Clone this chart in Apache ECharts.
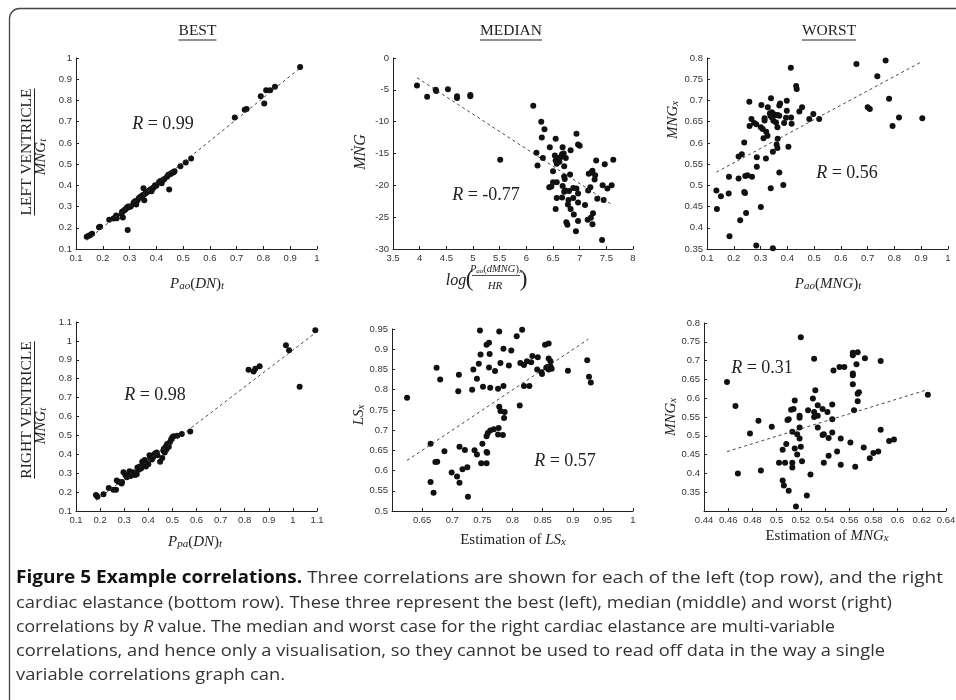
<!DOCTYPE html>
<html><head><meta charset="utf-8">
<script src="https://cdn.jsdelivr.net/npm/echarts@6/dist/echarts.min.js"></script>
<style>html,body{margin:0;padding:0;background:#fff}#c{width:956px;height:700px}</style>
</head><body><div id="c"></div><script>
// ---------- DATA ----------
const bestLV = [[0.14,0.158],[0.147,0.163],[0.152,0.165],[0.16,0.172],[0.186,0.203],[0.19,0.205],[0.224,0.238],[0.24,0.244],[0.247,0.25],[0.25,0.258],[0.252,0.245],[0.27,0.265],[0.272,0.275],[0.275,0.248],[0.278,0.28],[0.283,0.285],[0.287,0.29],[0.29,0.295],[0.293,0.19],[0.295,0.3],[0.3,0.298],[0.305,0.302],[0.315,0.318],[0.32,0.325],[0.325,0.31],[0.33,0.33],[0.335,0.34],[0.34,0.345],[0.345,0.35],[0.35,0.355],[0.352,0.386],[0.355,0.33],[0.358,0.36],[0.362,0.365],[0.368,0.37],[0.372,0.375],[0.378,0.38],[0.382,0.372],[0.385,0.385],[0.39,0.39],[0.395,0.4],[0.4,0.398],[0.41,0.415],[0.415,0.42],[0.42,0.41],[0.425,0.425],[0.43,0.43],[0.44,0.44],[0.445,0.45],[0.448,0.38],[0.45,0.452],[0.455,0.455],[0.46,0.46],[0.465,0.462],[0.468,0.466],[0.49,0.49],[0.51,0.508],[0.53,0.526],[0.693,0.72],[0.73,0.756],[0.737,0.76],[0.79,0.82],[0.803,0.786],[0.81,0.848],[0.825,0.848],[0.843,0.865],[0.937,0.958]];
const medianLV = [[3.95,-4.3],[4.14,-6.1],[4.30,-5.0],[4.31,-5.2],[4.53,-4.9],[4.70,-6.0],[4.70,-6.3],[4.95,-5.8],[4.95,-6.0],[5.51,-16.0],[6.13,-7.5],[6.28,-10.0],[6.34,-11.2],[6.29,-12.5],[6.55,-12.7],[6.94,-11.9],[6.97,-13.6],[7.0,-13.8],[6.44,-14.0],[6.68,-14.0],[6.83,-14.5],[6.19,-14.9],[6.31,-15.7],[6.21,-16.9],[6.535,-15.3],[6.55,-16.1],[6.58,-15.9],[6.62,-16.3],[6.64,-15.6],[6.67,-15.1],[6.70,-15.0],[6.57,-16.6],[6.74,-15.7],[6.71,-17.0],[6.50,-17.8],[7.31,-16.1],[7.63,-16.0],[7.47,-16.7],[7.24,-17.7],[7.22,-18.0],[7.17,-18.2],[7.29,-18.4],[7.28,-19.1],[6.82,-18.3],[6.71,-18.6],[6.72,-19.0],[6.50,-19.5],[6.57,-19.5],[6.43,-20.3],[6.47,-20.2],[6.68,-20.1],[6.88,-20.4],[6.94,-20.5],[6.97,-21.3],[7.2,-20.3],[7.16,-20.8],[7.43,-20.0],[7.6,-20.0],[7.52,-20.5],[6.80,-20.9],[6.71,-21.0],[6.73,-20.8],[6.57,-22.0],[6.67,-21.9],[6.88,-22.0],[6.97,-22.7],[6.79,-22.3],[6.78,-23.0],[7.1,-23.1],[7.33,-22.1],[7.45,-22.3],[6.55,-23.7],[6.83,-23.7],[6.89,-24.6],[7.25,-24.4],[7.21,-25.1],[7.15,-25.4],[7.24,-26.1],[6.75,-25.8],[6.77,-26.2],[6.97,-25.6],[6.93,-27.2],[7.42,-28.6]];
const worstLV = [[0.433,0.734],[0.435,0.727],[0.258,0.697],[0.339,0.705],[0.303,0.689],[0.327,0.684],[0.373,0.693],[0.37,0.688],[0.398,0.699],[0.335,0.67],[0.342,0.672],[0.348,0.668],[0.355,0.666],[0.364,0.666],[0.37,0.664],[0.337,0.664],[0.398,0.676],[0.445,0.674],[0.455,0.684],[0.497,0.668],[0.482,0.656],[0.414,0.66],[0.395,0.659],[0.315,0.658],[0.315,0.653],[0.342,0.66],[0.348,0.652],[0.358,0.648],[0.388,0.647],[0.416,0.645],[0.266,0.656],[0.259,0.64],[0.276,0.647],[0.284,0.644],[0.301,0.637],[0.308,0.633],[0.363,0.637],[0.321,0.626],[0.326,0.617],[0.311,0.611],[0.364,0.61],[0.36,0.596],[0.363,0.588],[0.404,0.591],[0.346,0.579],[0.239,0.601],[0.23,0.573],[0.218,0.568],[0.286,0.566],[0.32,0.563],[0.286,0.544],[0.37,0.53],[0.243,0.522],[0.251,0.524],[0.268,0.52],[0.182,0.52],[0.218,0.516],[0.385,0.501],[0.338,0.493],[0.239,0.484],[0.242,0.482],[0.181,0.481],[0.135,0.488],[0.152,0.474],[0.301,0.449],[0.137,0.444],[0.246,0.435],[0.224,0.418],[0.184,0.38],[0.284,0.358],[0.346,0.352],[0.413,0.777],[0.519,0.656],[0.658,0.786],[0.767,0.794],[0.736,0.757],[0.78,0.704],[0.70,0.684],[0.708,0.68],[0.817,0.66],[0.793,0.64],[0.904,0.658]];
const bestRV = [[0.183,0.185],[0.189,0.175],[0.214,0.188],[0.236,0.222],[0.255,0.212],[0.266,0.212],[0.269,0.262],[0.276,0.255],[0.289,0.246],[0.291,0.254],[0.297,0.305],[0.305,0.29],[0.311,0.278],[0.317,0.292],[0.322,0.31],[0.327,0.285],[0.333,0.3],[0.338,0.305],[0.345,0.29],[0.352,0.295],[0.355,0.33],[0.36,0.318],[0.365,0.335],[0.37,0.325],[0.375,0.36],[0.378,0.345],[0.385,0.37],[0.39,0.335],[0.394,0.352],[0.4,0.348],[0.405,0.395],[0.408,0.38],[0.412,0.39],[0.415,0.372],[0.42,0.385],[0.425,0.4],[0.43,0.405],[0.435,0.41],[0.438,0.395],[0.449,0.36],[0.458,0.38],[0.462,0.42],[0.465,0.43],[0.468,0.41],[0.472,0.44],[0.475,0.425],[0.478,0.455],[0.48,0.445],[0.485,0.44],[0.49,0.465],[0.495,0.48],[0.5,0.49],[0.505,0.495],[0.52,0.498],[0.539,0.508],[0.574,0.52],[0.816,0.848],[0.837,0.838],[0.844,0.853],[0.862,0.866],[0.971,0.977],[0.984,0.95],[1.028,0.757],[1.093,1.056]];
const medianRV = [[0.746,0.946],[0.778,0.944],[0.816,0.948],[0.807,0.932],[0.757,0.911],[0.761,0.916],[0.854,0.911],[0.86,0.914],[0.747,0.887],[0.762,0.888],[0.785,0.901],[0.798,0.897],[0.674,0.854],[0.68,0.825],[0.711,0.837],[0.71,0.796],[0.735,0.85],[0.744,0.864],[0.741,0.827],[0.733,0.8],[0.751,0.807],[0.763,0.805],[0.761,0.855],[0.771,0.846],[0.776,0.802],[0.785,0.809],[0.78,0.866],[0.794,0.86],[0.813,0.866],[0.819,0.861],[0.824,0.87],[0.831,0.868],[0.833,0.883],[0.842,0.88],[0.841,0.85],[0.848,0.843],[0.849,0.839],[0.819,0.809],[0.828,0.809],[0.856,0.854],[0.86,0.85],[0.863,0.858],[0.865,0.852],[0.86,0.877],[0.863,0.87],[0.858,0.856],[0.892,0.847],[0.924,0.873],[0.927,0.832],[0.93,0.818],[0.625,0.78],[0.812,0.761],[0.778,0.758],[0.78,0.747],[0.787,0.745],[0.786,0.73],[0.777,0.705],[0.769,0.702],[0.763,0.699],[0.759,0.693],[0.757,0.685],[0.776,0.689],[0.784,0.688],[0.664,0.666],[0.687,0.648],[0.712,0.659],[0.721,0.651],[0.737,0.65],[0.741,0.64],[0.75,0.666],[0.757,0.646],[0.758,0.644],[0.748,0.618],[0.757,0.618],[0.672,0.621],[0.675,0.622],[0.699,0.595],[0.708,0.585],[0.717,0.603],[0.725,0.608],[0.712,0.57],[0.664,0.572],[0.669,0.545],[0.726,0.535]];
const worstRV = [[0.52,0.762],[0.459,0.643],[0.466,0.579],[0.468,0.4],[0.485,0.54],[0.478,0.506],[0.496,0.524],[0.487,0.408],[0.531,0.705],[0.547,0.674],[0.552,0.683],[0.556,0.683],[0.563,0.721],[0.563,0.714],[0.567,0.722],[0.573,0.706],[0.586,0.699],[0.566,0.69],[0.563,0.666],[0.563,0.661],[0.563,0.637],[0.568,0.616],[0.567,0.612],[0.567,0.592],[0.564,0.568],[0.625,0.609],[0.532,0.621],[0.53,0.599],[0.515,0.594],[0.514,0.571],[0.512,0.569],[0.51,0.544],[0.509,0.542],[0.519,0.548],[0.519,0.553],[0.526,0.568],[0.534,0.581],[0.531,0.563],[0.534,0.553],[0.531,0.55],[0.538,0.571],[0.542,0.563],[0.546,0.583],[0.546,0.544],[0.534,0.522],[0.519,0.522],[0.513,0.511],[0.517,0.504],[0.519,0.493],[0.539,0.504],[0.538,0.502],[0.546,0.509],[0.543,0.494],[0.553,0.493],[0.561,0.482],[0.586,0.516],[0.593,0.486],[0.597,0.49],[0.572,0.469],[0.508,0.478],[0.505,0.463],[0.515,0.466],[0.52,0.471],[0.517,0.45],[0.521,0.432],[0.513,0.416],[0.513,0.428],[0.507,0.428],[0.502,0.428],[0.543,0.447],[0.539,0.428],[0.55,0.458],[0.553,0.423],[0.565,0.418],[0.577,0.44],[0.58,0.454],[0.584,0.458],[0.528,0.397],[0.505,0.381],[0.506,0.368],[0.51,0.354],[0.525,0.341],[0.516,0.312]];

const fitBestLV = [[0.14,0.141],[0.944,0.96]];
const fitMedianLV = [[3.95,-3.1],[7.6,-23.0]];
const fitWorstLV = [[0.135,0.531],[0.904,0.792]];
const fitBestRV = [[0.183,0.156],[1.093,1.042]];
const fitMedianRV = [[0.625,0.625],[0.926,0.925]];
const fitWorstRV = [[0.459,0.458],[0.625,0.623]];

// axis ranges [min, max, interval]
const xRanges = [[0.1,1,0.1],[3.5,8,0.5],[0.1,1,0.1],[0.1,1.1,0.1],[0.6,1,0.05],[0.44,0.64,0.02]];
const yRanges = [[0.1,1,0.1],[-30,0,5],[0.35,0.8,0.05],[0.1,1.1,0.1],[0.5,0.95,0.05],[0.3,0.8,0.05]];
const rValues = ['0.99','-0.77','0.56','0.98','0.57','0.31'];
const colTitles = ['BEST','MEDIAN','WORST'];
const rowTitles = ['LEFT VENTRICLE','RIGHT VENTRICLE'];

const points = [bestLV, medianLV, worstLV, bestRV, medianRV, worstRV];
const fits = [fitBestLV, fitMedianLV, fitWorstLV, fitBestRV, fitMedianRV, fitWorstRV];

// ---------- LAYOUT ----------
const grids = [
  {left:76, top:58, width:241, height:191},
  {left:393, top:58, width:240, height:191},
  {left:707, top:58, width:241, height:191},
  {left:76, top:322, width:241, height:189},
  {left:392, top:329, width:241, height:182},
  {left:704, top:323, width:242, height:188}
];
const hideXMin = [false,false,false,false,true,false];
const hideYMin = [false,false,false,false,false,true];

const SERIF = "'Liberation Serif','DejaVu Serif',serif";
const SANS = "'Liberation Sans','DejaVu Sans',sans-serif";
const CAP = "'Open Sans','Noto Sans',sans-serif";
const INK = '#222';

const cv = document.createElement('canvas').getContext('2d');
function measure(font, s){ cv.font = font; return cv.measureText(s).width; }

function richSet(sz){
  return {
    i:{fontFamily:SERIF,fontStyle:'italic',fontSize:sz,fill:INK,verticalAlign:'bottom',lineHeight:Math.round(sz*1.2)},
    r:{fontFamily:SERIF,fontSize:sz,fill:INK,verticalAlign:'bottom',lineHeight:Math.round(sz*1.2)},
    s:{fontFamily:SERIF,fontStyle:'italic',fontSize:Math.round(sz*0.7),fill:INK,verticalAlign:'bottom',lineHeight:Math.round(sz*0.55)}
  };
}
function T(x,y,text,sz,o){
  o = o || {};
  return {type:'text', x:x, y:y, rotation:o.rot||0, scaleX:o.sx||1, silent:true, z:20,
    style:{text:text, fontFamily:o.ff||SERIF, fontSize:sz, fontWeight:o.fw||'normal', fill:o.fill||INK,
      align:o.align||'center', textAlign:o.align||'center', verticalAlign:'middle', textVerticalAlign:'middle',
      rich:o.rich||richSet(sz)}};
}
function L(x1,y1,x2,y2,w,c){
  return {type:'line', silent:true, z:20, shape:{x1:x1,y1:y1,x2:x2,y2:y2}, style:{stroke:c||INK, lineWidth:w||1}};
}

const G = [];
// frame
G.push({type:'rect', silent:true, z:1, shape:{x:9.5, y:8.5, width:960, height:720, r:10}, style:{fill:'none', stroke:'#444', lineWidth:1.3}});

// column titles with underline
const titleX = [197.5, 511, 829];
colTitles.forEach((t,k)=>{
  const sz = 15.5;
  const w = measure(sz+'px '+SERIF, t);
  G.push(T(titleX[k], 31, t, sz, {ff:SERIF}));
  G.push(L(titleX[k]-w/2, 40, titleX[k]+w/2, 40, 1));
});
// row titles (rotated, underlined)
const rowY = [152, 410];
rowTitles.forEach((t,k)=>{
  const sz = 15.5;
  const w = measure(sz+'px '+SERIF, t);
  G.push(T(27, rowY[k], t, sz, {rot:Math.PI/2}));
  G.push(L(34.5, rowY[k]-w/2, 34.5, rowY[k]+w/2, 1));
});
// y-axis math labels
G.push(T(40, 157, '{i|MNG}{s|t}', 15, {rot:Math.PI/2}));
G.push(T(40, 426, '{i|MNG}{s|t}', 15, {rot:Math.PI/2}));
G.push(T(359, 152, '{i|M\u1E44G}', 16, {rot:Math.PI/2}));
G.push(T(672, 120, '{i|MNG}{s|x}', 15, {rot:Math.PI/2}));
G.push(T(358, 415, '{i|LS}{s|x}', 15, {rot:Math.PI/2}));
G.push(T(670, 417, '{i|MNG}{s|x}', 15, {rot:Math.PI/2}));
// x-axis math labels
G.push(T(197, 283, '{i|P}{s|ao}{r|(}{i|DN}{r|)}{s|t}', 15));
G.push(T(828, 283, '{i|P}{s|ao}{r|(}{i|MNG}{r|)}{s|t}', 15));
G.push(T(195, 541, '{i|P}{s|pa}{r|(}{i|DN}{r|)}{s|t}', 15));
G.push(T(513, 539, '{r|Estimation of }{i|LS}{s|x}', 15));
G.push(T(827, 535, '{r|Estimation of }{i|MNG}{s|x}', 15));
// fraction label for median LV
G.push(T(456, 279, '{i|log}', 16));
G.push(T(469.5, 277.5, '{r|(}', 23));
G.push(T(496, 268.5, '{i|P}{s|ao}{r|(}{i|dMNG}{r|)}{s|x}', 10.5));
G.push(L(472, 275.5, 520, 275.5, 0.8));
G.push(T(495, 285.5, '{i|HR}', 11));
G.push(T(523.5, 277.5, '{r|)}', 23));
// R annotations
const rPos = [[163,122],[486,193],[847,171],[155,393],[565,459],[762,366]];
rValues.forEach((v,k)=>{
  G.push(T(rPos[k][0], rPos[k][1], '{i|R}{r| = '+v+'}', 18));
});

// caption
const capLines = [
  {y:578, right:943, parts:[['b','Figure 5 Example correlations.'],['n',' Three correlations are shown for each of the left (top row), and the right']]},
  {y:603, right:892, parts:[['n','cardiac elastance (bottom row). These three represent the best (left), median (middle) and worst (right)']]},
  {y:627, right:835, parts:[['n','correlations by '],['it','R'],['n',' value. The median and worst case for the right cardiac elastance are multi-variable']]},
  {y:651, right:885, parts:[['n','correlations, and hence only a visualisation, so they cannot be used to read off data in the way a single']]},
  {y:675, right:null, parts:[['n','variable correlations graph can.']]}
];
const capSz = 17;
const capRich = {
  b:{fontFamily:CAP,fontWeight:'bold',fontSize:capSz,fill:'#111'},
  n:{fontFamily:CAP,fontSize:capSz,fill:'#333'},
  it:{fontFamily:CAP,fontStyle:'italic',fontSize:capSz,fill:'#333'}
};
const capInfo = capLines.map(l=>{
  let w = 0, txt = '';
  l.parts.forEach(p=>{
    const f = (p[0]==='b'?'bold ':p[0]==='it'?'italic ':'') + capSz+'px '+CAP;
    w += measure(f, p[1]);
    txt += '{'+p[0]+'|'+p[1]+'}';
  });
  return {w:w, txt:txt};
});
const fitted = capLines.filter(l=>l.right).map((l,k)=>(l.right-16)/capInfo[k].w);
const meanScale = fitted.reduce((a,b)=>a+b,0)/fitted.length;
capLines.forEach((l,k)=>{
  const sx = l.right ? (l.right-16)/capInfo[k].w : meanScale;
  G.push(T(16, l.y, capInfo[k].txt, capSz, {align:'left', ff:CAP, rich:capRich, sx:sx}));
});

// ---------- OPTION ----------
const axisCommon = (r, hideMin)=>({
  type:'value', min:r[0], max:r[1], interval:r[2], scale:true,
  axisLine:{show:true, onZero:false, lineStyle:{color:'#222', width:1}},
  axisTick:{show:true, inside:true, length:3, lineStyle:{color:'#222', width:1}},
  axisLabel:{show:true, fontSize:9.5, color:'#333', fontFamily:SANS, margin:4, showMinLabel:!hideMin, showMaxLabel:true, hideOverlap:false},
  splitLine:{show:false}
});

const option = {
  animation:false,
  backgroundColor:'#fff',
  grid: grids.map(g=>Object.assign({containLabel:false, outerBoundsMode:'none'}, g)),
  xAxis: xRanges.map((r,i)=>Object.assign(axisCommon(r, hideXMin[i]), {gridIndex:i})),
  yAxis: yRanges.map((r,i)=>Object.assign(axisCommon(r, hideYMin[i]), {gridIndex:i})),
  series: [].concat(...points.map((pts,i)=>[
    {type:'scatter', xAxisIndex:i, yAxisIndex:i, data:pts, symbolSize:6, silent:true,
      itemStyle:{color:'#111', opacity:1}},
    {type:'line', xAxisIndex:i, yAxisIndex:i, data:fits[i], symbol:'none', silent:true,
      lineStyle:{color:'#333', width:0.9, type:[3,3]}}
  ])),
  graphic:{elements:G}
};
const chart = echarts.init(document.getElementById('c'), null, {renderer:'canvas'});
chart.setOption(option);
</script></body></html>
